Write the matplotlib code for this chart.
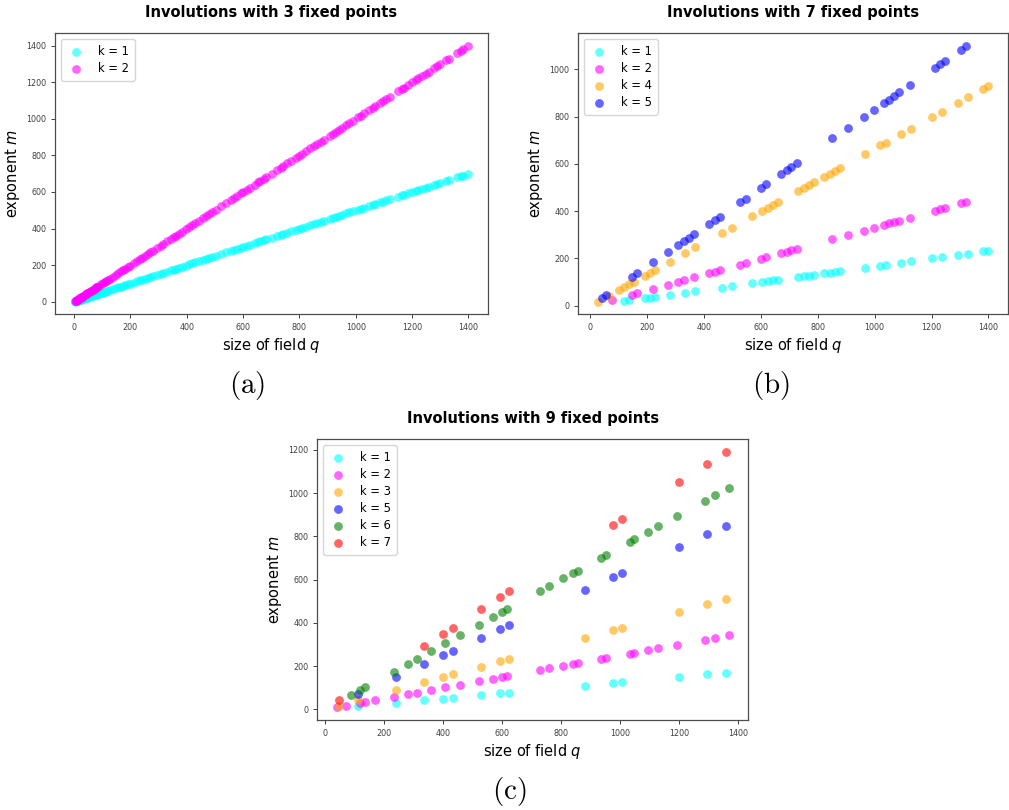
import matplotlib
matplotlib.use('Agg')

import matplotlib.pyplot as plt

# ---- panel (a): involutions with 3 fixed points ----
q_a = [3, 5, 7, 9, 11, 13, 17, 19, 23, 25,
       27, 29, 31, 37, 41, 43, 47, 49, 53, 59,
       61, 67, 71, 73, 79, 81, 83, 89, 97, 101,
       109, 113, 121, 127, 137, 149, 157, 167, 173, 181,
       191, 199, 211, 223, 233, 241, 251, 263, 271, 281,
       293, 307, 317, 331, 343, 353, 361, 373, 383, 397,
       409, 419, 431, 443, 457, 467, 479, 491, 503, 523,
       541, 557, 569, 577, 593, 601, 613, 625, 641, 653,
       661, 673, 683, 701, 719, 733, 743, 757, 769, 787,
       797, 809, 823, 839, 853, 863, 877, 887, 907, 919,
       929, 941, 953, 967, 977, 991, 1009, 1019, 1031, 1049,
       1061, 1069, 1087, 1097, 1109, 1123, 1151, 1163, 1171, 1187,
       1201, 1213, 1223, 1237, 1249, 1259, 1277, 1289, 1301, 1321,
       1331, 1361, 1373, 1381, 1399]
m_a_k1 = [1, 2, 3, 4, 5, 6, 8, 9, 11, 12,
          13, 14, 15, 18, 20, 21, 23, 24, 26, 29,
          30, 33, 35, 36, 39, 40, 41, 44, 48, 50,
          54, 56, 60, 63, 68, 74, 78, 83, 86, 90,
          95, 99, 105, 111, 116, 120, 125, 131, 135, 140,
          146, 153, 158, 165, 171, 176, 180, 186, 191, 198,
          204, 209, 215, 221, 228, 233, 239, 245, 251, 261,
          270, 278, 284, 288, 296, 300, 306, 312, 320, 326,
          330, 336, 341, 350, 359, 366, 371, 378, 384, 393,
          398, 404, 411, 419, 426, 431, 438, 443, 453, 459,
          464, 470, 476, 483, 488, 495, 504, 509, 515, 524,
          530, 534, 543, 548, 554, 561, 575, 581, 585, 593,
          600, 606, 611, 618, 624, 629, 638, 644, 650, 660,
          665, 680, 686, 690, 699]
m_a_k2 = [2, 4, 6, 8, 10, 12, 16, 18, 22, 24,
          26, 28, 30, 36, 40, 42, 46, 48, 52, 58,
          60, 66, 70, 72, 78, 80, 82, 88, 96, 100,
          108, 112, 120, 126, 136, 148, 156, 166, 172, 180,
          190, 198, 210, 222, 232, 240, 250, 262, 270, 280,
          292, 306, 316, 330, 342, 352, 360, 372, 382, 396,
          408, 418, 430, 442, 456, 466, 478, 490, 502, 522,
          540, 556, 568, 576, 592, 600, 612, 624, 640, 652,
          660, 672, 682, 700, 718, 732, 742, 756, 768, 786,
          796, 808, 822, 838, 852, 862, 876, 886, 906, 918,
          928, 940, 952, 966, 976, 990, 1008, 1018, 1030, 1048,
          1060, 1068, 1086, 1096, 1108, 1122, 1150, 1162, 1170, 1186,
          1200, 1212, 1222, 1236, 1248, 1258, 1276, 1288, 1300, 1320,
          1330, 1360, 1372, 1380, 1398]

# ---- panel (b): involutions with 7 fixed points ----
q_b_k1 = [120, 138, 193, 210, 228, 281, 335, 371, 463, 498,
          570, 605, 625, 642, 660, 732, 751, 770, 787, 824,
          842, 860, 879, 967, 1020, 1039, 1093, 1129, 1203, 1237,
          1294, 1329, 1381, 1400]
m_b_k1 = [20, 23, 32, 35, 38, 47, 56, 62, 77, 83,
          95, 101, 104, 107, 110, 122, 125, 128, 131, 137,
          140, 143, 146, 161, 170, 173, 182, 188, 200, 206,
          215, 221, 230, 233]
q_b_k2 = [78, 147, 167, 222, 276, 311, 331, 367, 419, 439,
          456, 528, 548, 601, 619, 673, 691, 708, 727, 852,
          908, 962, 997, 1034, 1051, 1069, 1087, 1124, 1213, 1230,
          1249, 1304, 1321]
m_b_k2 = [23, 47, 55, 71, 89, 102, 109, 121, 138, 144,
          150, 174, 181, 199, 205, 223, 229, 234, 240, 282,
          298, 318, 330, 342, 349, 353, 358, 371, 401, 409,
          415, 433, 438]
q_b_k4 = [28, 66, 102, 120, 138, 156, 193, 210, 228, 281,
          335, 371, 463, 498, 570, 605, 625, 642, 660, 732,
          751, 770, 787, 824, 842, 860, 879, 967, 1020, 1039,
          1093, 1129, 1203, 1237, 1294, 1329, 1381, 1400]
m_b_k4 = [18, 41, 65, 79, 90, 102, 126, 138, 150, 186,
          223, 247, 306, 330, 378, 401, 414, 425, 438, 486,
          498, 511, 522, 545, 558, 569, 583, 642, 679, 689,
          727, 749, 797, 821, 857, 882, 917, 931]
q_b_k5 = [41, 58, 147, 167, 222, 276, 311, 331, 348, 367,
          419, 439, 456, 528, 548, 601, 619, 673, 691, 708,
          727, 852, 908, 962, 997, 1034, 1051, 1069, 1087, 1124,
          1213, 1230, 1249, 1304, 1321]
m_b_k5 = [34, 46, 121, 138, 183, 227, 257, 272, 288, 303,
          347, 361, 377, 438, 453, 498, 514, 557, 572, 587,
          603, 709, 752, 797, 827, 857, 872, 888, 902, 933,
          1006, 1022, 1037, 1083, 1098]

# ---- panel (c): involutions with 9 fixed points ----
q_c_k1 = [113, 241, 337, 401, 433, 529, 593, 625, 881, 977, 1009, 1201, 1297, 1361]
m_c_k1 = [14, 30, 42, 50, 54, 66, 74, 78, 110, 122, 126, 150, 162, 170]
q_c_k2 = [41, 73, 121, 137, 169, 233, 281, 313, 361, 409,
          457, 521, 569, 601, 617, 729, 761, 809, 841, 857,
          937, 953, 1033, 1049, 1097, 1129, 1193, 1289, 1321, 1369]
m_c_k2 = [10, 18, 30, 34, 42, 58, 70, 78, 90, 102,
          114, 130, 142, 150, 154, 182, 190, 202, 210, 214,
          234, 238, 258, 262, 274, 282, 298, 322, 330, 342]
q_c_k3 = [49, 113, 241, 337, 401, 433, 529, 593, 625, 881, 977, 1009, 1201, 1297, 1361]
m_c_k3 = [18, 42, 90, 126, 150, 162, 198, 222, 234, 330, 366, 378, 450, 486, 510]
q_c_k5 = [113, 241, 337, 401, 433, 529, 593, 625, 881, 977, 1009, 1201, 1297, 1361]
m_c_k5 = [70, 150, 210, 250, 270, 330, 370, 390, 550, 610, 630, 750, 810, 850]
q_c_k6 = [89, 121, 137, 233, 281, 313, 361, 409, 457, 521,
          569, 601, 617, 729, 761, 809, 841, 857, 937, 953,
          1033, 1049, 1097, 1129, 1193, 1289, 1321, 1369]
m_c_k6 = [66, 90, 102, 174, 210, 234, 270, 306, 342, 390,
          426, 450, 462, 546, 570, 606, 630, 642, 702, 714,
          774, 786, 822, 846, 894, 966, 990, 1026]
q_c_k7 = [49, 337, 401, 433, 529, 593, 625, 977, 1009, 1201, 1297, 1361]
m_c_k7 = [42, 294, 350, 378, 462, 518, 546, 854, 882, 1050, 1134, 1190]


W, H = 1009, 810


def px_axes(fig, left, top, right, bottom):
    """ Add axes given pixel edges of the frame. """
    return fig.add_axes([left / W, 1 - bottom / H, (right - left) / W, (bottom - top) / H])


def style(ax, title):
    ax.set_title(title, fontsize=10.5, fontweight='bold', pad=12)
    ax.set_xlabel('size of field $q$', fontsize=10.5, labelpad=3)
    ax.set_ylabel('exponent $m$', fontsize=10.5, labelpad=3)
    ax.tick_params(labelsize=5.8, length=3, width=0.7, colors='0.25')
    for s in ax.spines.values():
        s.set_color('0.3')
        s.set_linewidth(0.9)
    ax.legend(loc='upper left', fontsize=8.3, handletextpad=1.1, borderpad=0.5,
              labelspacing=0.35, handlelength=1.6)


fig = plt.figure(figsize=(W / 100, H / 100), dpi=100)
size = 40
alpha = 0.6

# (a)
ax = px_axes(fig, 55.3, 33.3, 487.7, 314.3)
ax.scatter(q_a, m_a_k1, s=size, color='cyan', alpha=alpha, label='k = 1', linewidths=0)
ax.scatter(q_a, m_a_k2, s=size, color='magenta', alpha=alpha, label='k = 2', linewidths=0)
ax.set_xticks(range(0, 1401, 200))
ax.set_yticks(range(0, 1401, 200))
style(ax, 'Involutions with 3 fixed points')

# (b)
ax = px_axes(fig, 578.3, 33.3, 1008.0, 314.3)
series_b = [(q_b_k1, m_b_k1, 'cyan', 'k = 1'),
            (q_b_k2, m_b_k2, 'magenta', 'k = 2'),
            (q_b_k4, m_b_k4, 'orange', 'k = 4'),
            (q_b_k5, m_b_k5, 'blue', 'k = 5')]
for q, m, c, lab in series_b:
    ax.scatter(q, m, s=size, color=c, alpha=alpha, label=lab, linewidths=0)
ax.set_xticks(range(0, 1401, 200))
style(ax, 'Involutions with 7 fixed points')

# (c)
ax = px_axes(fig, 317.3, 439.3, 748.3, 720.0)
series_c = [(q_c_k1, m_c_k1, 'cyan', 'k = 1'),
            (q_c_k2, m_c_k2, 'magenta', 'k = 2'),
            (q_c_k3, m_c_k3, 'orange', 'k = 3'),
            (q_c_k5, m_c_k5, 'blue', 'k = 5'),
            (q_c_k6, m_c_k6, 'green', 'k = 6'),
            (q_c_k7, m_c_k7, 'red', 'k = 7')]
for q, m, c, lab in series_c:
    ax.scatter(q, m, s=size, color=c, alpha=alpha, label=lab, linewidths=0)
ax.set_xticks(range(0, 1401, 200))
style(ax, 'Involutions with 9 fixed points')

# sub-figure captions
plt.rcParams['mathtext.fontset'] = 'cm'
for lab, x, y in [('(a)', 247, 385), ('(b)', 771, 385), ('(c)', 509, 792)]:
    fig.text(x / W, 1 - y / H, r'$\mathrm{' + lab + '}$', fontsize=21,
             ha='center', va='center')

plt.savefig('out.png', dpi=100)
